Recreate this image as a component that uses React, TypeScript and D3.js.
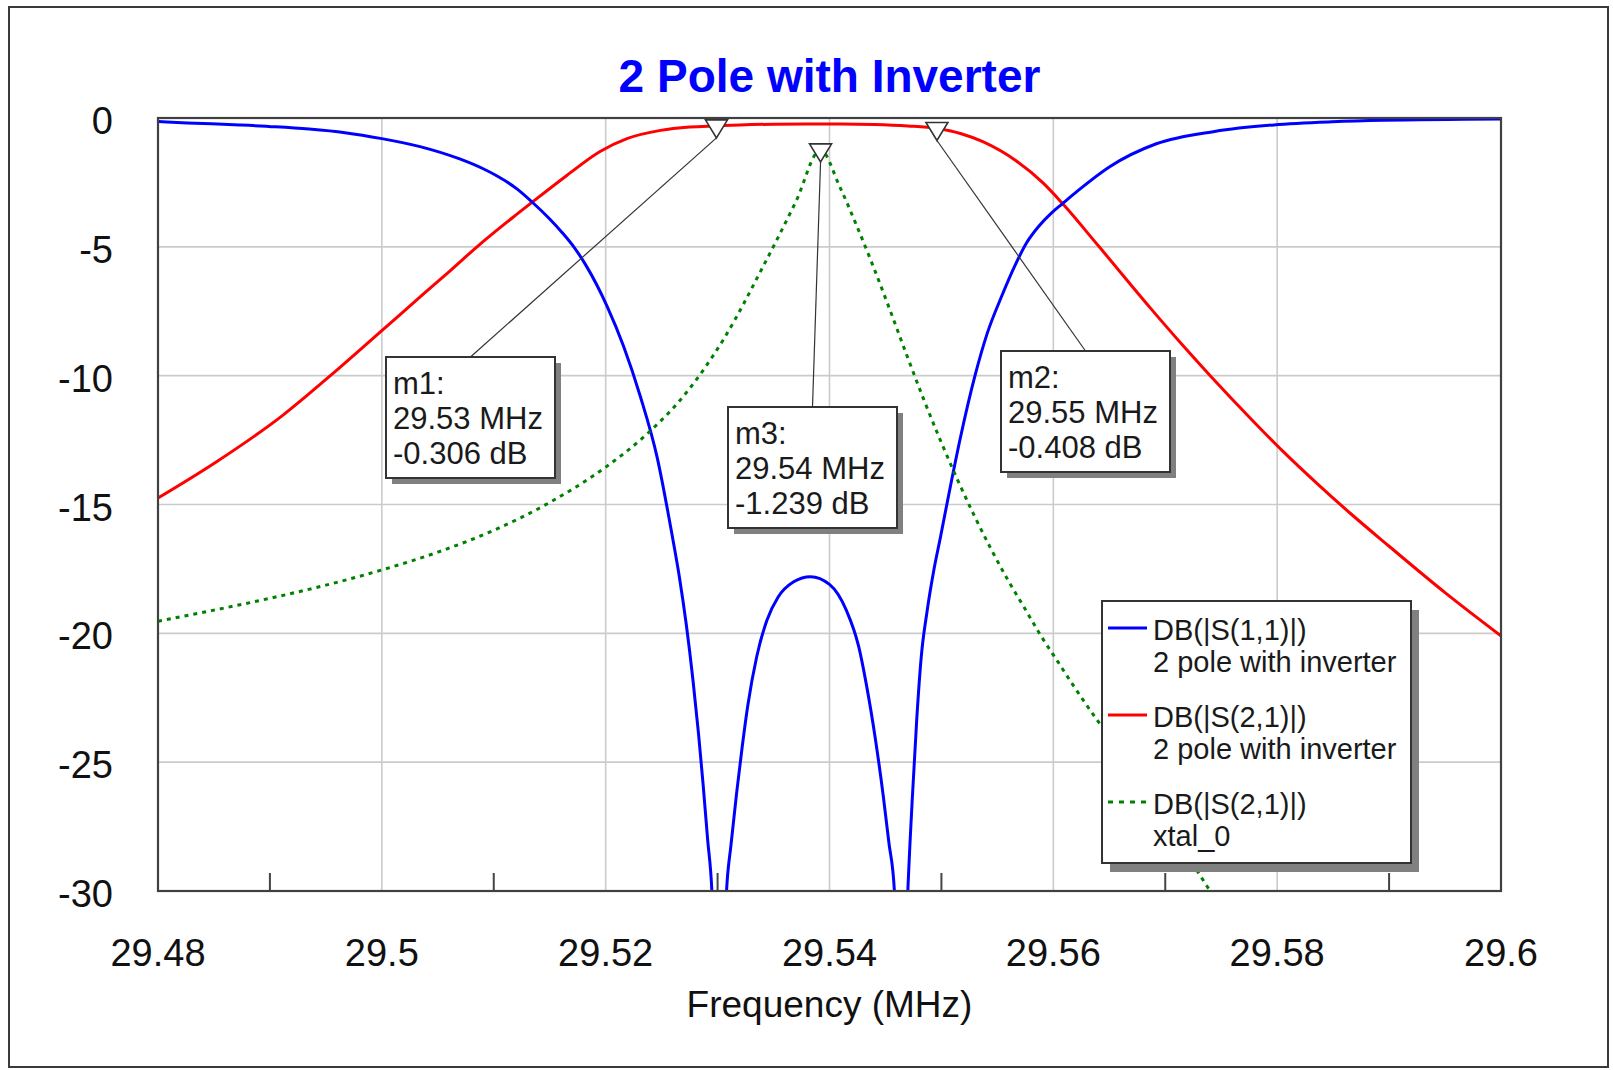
import * as d3 from 'd3'

// DB(|S(1,1)|), 2 pole with inverter (blue)
const s11Freq = [
  29.48, 29.4826, 29.4873, 29.4905, 29.4935, 29.4967, 29.5, 29.5035, 29.5069, 29.5091,
  29.5103, 29.5121, 29.5134, 29.515, 29.5161, 29.5172, 29.5182, 29.5192, 29.5201, 29.5216,
  29.5231, 29.5246, 29.5259, 29.5266, 29.5272, 29.5278, 29.5283, 29.5287, 29.5291, 29.5295,
  29.5301, 29.5308, 29.5312, 29.5317, 29.5322, 29.5327, 29.5335, 29.5344, 29.5354, 29.5368,
  29.5383, 29.54, 29.5415, 29.5426, 29.5433, 29.5441, 29.5448, 29.5453, 29.5458, 29.5463,
  29.547, 29.5474, 29.5478, 29.5482, 29.5487, 29.5493, 29.5499, 29.5508, 29.5517, 29.553,
  29.5541, 29.5554, 29.5566, 29.5576, 29.5587, 29.5598, 29.5608, 29.5622, 29.565, 29.5692,
  29.5744, 29.5797, 29.5849, 29.5895, 29.6,
]
const s11Db = [
  -0.14, -0.19, -0.27, -0.34, -0.43, -0.57, -0.8, -1.12, -1.58, -1.98,
  -2.25, -2.76, -3.25, -3.92, -4.44, -5.03, -5.69, -6.47, -7.28, -8.86,
  -10.81, -13.17, -16.1, -17.85, -19.65, -21.81, -23.91, -25.83, -27.95, -30.1,
  -40, -30, -28.2, -26.2, -24.4, -22.8, -20.9, -19.5, -18.6, -18.0,
  -17.8, -18.1, -19.1, -20.5, -22.0, -24.1, -26.3, -28.1, -30, -40,
  -30, -26.4, -23.3, -20.9, -19.2, -17.6, -16.3, -14.3, -12.4, -10.0,
  -8.35, -6.9, -5.7, -4.85, -4.2, -3.7, -3.33, -2.82, -1.9, -1.0,
  -0.52, -0.27, -0.15, -0.09, -0.04,
]

// DB(|S(2,1)|), 2 pole with inverter (red)
const s21Freq = [
  29.48, 29.4852, 29.4912, 29.4954, 29.5, 29.5037, 29.5061, 29.5085, 29.5117, 29.5134,
  29.5165, 29.5195, 29.5219, 29.5249, 29.5275, 29.5299, 29.532, 29.535, 29.538, 29.541,
  29.544, 29.547, 29.5496, 29.5517, 29.5537, 29.5567, 29.5591, 29.5608, 29.5641, 29.5686,
  29.5716, 29.5741, 29.5776, 29.5805, 29.5835, 29.5865, 29.59, 29.595, 29.6,
]
const s21Db = [
  -14.75, -13.35, -11.52, -10.0, -8.25, -6.84, -5.93, -5.0, -3.86, -3.28,
  -2.24, -1.3, -0.8, -0.48, -0.35, -0.306, -0.27, -0.24, -0.23, -0.23,
  -0.25, -0.31, -0.408, -0.6, -0.92, -1.67, -2.53, -3.31, -5.0, -7.34,
  -8.84, -10.04, -11.65, -12.93, -14.16, -15.33, -16.62, -18.42, -20.1,
]

// DB(|S(2,1)|), xtal_0 (green dotted)
const xtalFreq = [
  29.48, 29.485, 29.49, 29.495, 29.5, 29.505, 29.51, 29.515, 29.52, 29.5236,
  29.527, 29.5306, 29.534, 29.537, 29.5392, 29.5409, 29.5424, 29.5439, 29.5454, 29.5469,
  29.5484, 29.5499, 29.5514, 29.5529, 29.5544, 29.5559, 29.5574, 29.5589, 29.5604, 29.5619,
  29.5634, 29.5643, 29.574,
]
const xtalDb = [
  -19.53, -19.1, -18.64, -18.13, -17.54, -16.85, -16.0, -14.92, -13.55, -12.3,
  -10.77, -8.54, -5.82, -3.24, -1.239, -2.65, -4.15, -5.75, -7.45, -9.2,
  -10.9, -12.5, -14.0, -15.4, -16.7, -17.9, -19.0, -20.1, -21.1, -22.1,
  -23.05, -23.6, -30,
]

const xTicks = [29.48, 29.5, 29.52, 29.54, 29.56, 29.58, 29.6]
const xMinorTicks = [29.49, 29.51, 29.53, 29.55, 29.57, 29.59]
const yTicks = [0, -5, -10, -15, -20, -25, -30]

const markerNames = ['m1', 'm2', 'm3']
const markerFreqs = [29.5299, 29.5496, 29.5392]
const markerDbs = [-0.306, -0.408, -1.239]

const legendNames = ['DB(|S(1,1)|)', 'DB(|S(2,1)|)', 'DB(|S(2,1)|)']
const legendSources = ['2 pole with inverter', '2 pole with inverter', 'xtal_0']

const FONT = "'Liberation Sans', Arial, Helvetica, sans-serif"

const App = () => {
  const width = 1613
  const height = 1070
  const left = 158, right = 1501, top = 118, bottom = 891

  const x = d3.scaleLinear().domain([29.48, 29.6]).range([left, right])
  const y = d3.scaleLinear().domain([-30, 0]).range([bottom, top])

  const line = d3.line<[number, number]>()
    .x(d => x(d[0]))
    .y(d => y(d[1]))
    .curve(d3.curveMonotoneX)

  const series = [
    { freq: s21Freq, db: s21Db, color: '#ff0000', dash: undefined },
    { freq: s11Freq, db: s11Db, color: '#0000ff', dash: undefined },
    { freq: xtalFreq, db: xtalDb, color: '#008000', dash: '4 5' },
  ]
  const legendColors = ['#0000ff', '#ff0000', '#008000']
  const legendDash = [undefined, undefined, '5 6']

  // boxes for the marker read-outs (px)
  const boxPos = [[386, 357], [1001, 351], [728, 407]]
  const boxW = 169, boxH = 121

  const legend = { x: 1102, y: 601, w: 309, h: 262 }

  return (
    <svg width={width} height={height} style={{ position: 'absolute', left: 0, top: 0, background: '#fff' }}
      fontFamily={FONT}>
      <defs>
        <clipPath id="plotClip">
          <rect x={left} y={top} width={right - left} height={bottom - top} />
        </clipPath>
      </defs>
      <rect x={9} y={7} width={1599} height={1060} fill="#fff" stroke="#3a3a3a" strokeWidth={2} />

      <text x={(left + right) / 2} y={92} textAnchor="middle" fontSize={46} fontWeight="bold" fill="#0000ff">
        2 Pole with Inverter
      </text>

      {/* grid */}
      {xTicks.slice(1, -1).map(t => (
        <line key={'gx' + t} x1={x(t)} x2={x(t)} y1={top} y2={bottom} stroke="#cbcbcb" strokeWidth={1.6} />
      ))}
      {yTicks.slice(1, -1).map(t => (
        <line key={'gy' + t} x1={left} x2={right} y1={y(t)} y2={y(t)} stroke="#cbcbcb" strokeWidth={1.6} />
      ))}
      {xMinorTicks.map(t => (
        <line key={'mt' + t} x1={x(t)} x2={x(t)} y1={bottom} y2={bottom - 18} stroke="#444" strokeWidth={2} />
      ))}

      {/* curves */}
      <g clipPath="url(#plotClip)">
        {series.map((s, i) => (
          <path key={i} d={line(d3.zip(s.freq, s.db) as [number, number][]) || ''} fill="none"
            stroke={s.color} strokeWidth={3} strokeDasharray={s.dash} strokeLinejoin="round" />
        ))}
      </g>

      <rect x={left} y={top} width={right - left} height={bottom - top} fill="none" stroke="#404040" strokeWidth={2.2} />

      {/* axis labels */}
      {yTicks.map(t => (
        <text key={'yl' + t} x={113} y={y(t) + 16} textAnchor="end" fontSize={38} fill="#111">{t}</text>
      ))}
      {xTicks.map(t => (
        <text key={'xl' + t} x={x(t)} y={966} textAnchor="middle" fontSize={38} fill="#111">{t}</text>
      ))}
      <text x={(left + right) / 2} y={1017} textAnchor="middle" fontSize={37} fill="#111">Frequency (MHz)</text>

      {/* markers */}
      {markerNames.map((name, i) => {
        const px = x(markerFreqs[i])
        const py = y(markerDbs[i])
        const [bx, by] = boxPos[i]
        return (
          <g key={name}>
            <line x1={px} y1={py + 12} x2={bx + boxW / 2} y2={by} stroke="#333" strokeWidth={1.2} />
            <path d={`M${px - 11},${py - 6}L${px + 11},${py - 6}L${px},${py + 12}Z`} fill="#fff" stroke="#333" strokeWidth={1.6} />
            <rect x={bx + 6} y={by + 6} width={boxW} height={boxH} fill="#808080" />
            <rect x={bx} y={by} width={boxW} height={boxH} fill="#fff" stroke="#333" strokeWidth={2} />
            <g fontSize={31} fill="#1a1a1a">
              <text x={bx + 7} y={by + 37}>{name}:</text>
              <text x={bx + 7} y={by + 72}>{markerFreqs[i].toFixed(2)} MHz</text>
              <text x={bx + 7} y={by + 107}>{markerDbs[i].toFixed(3)} dB</text>
            </g>
          </g>
        )
      })}

      {/* legend */}
      <rect x={legend.x + 8} y={legend.y + 9} width={legend.w} height={legend.h} fill="#808080" />
      <rect x={legend.x} y={legend.y} width={legend.w} height={legend.h} fill="#fff" stroke="#333" strokeWidth={2} />
      {legendNames.map((name, i) => {
        const base = legend.y + 39 + i * 87
        return (
          <g key={'lg' + i}>
            <line x1={legend.x + 6} x2={legend.x + 45} y1={base - 12} y2={base - 12} stroke={legendColors[i]}
              strokeWidth={3} strokeDasharray={legendDash[i]} />
            <g fontSize={29} fill="#1a1a1a">
              <text x={legend.x + 51} y={base}>{name}</text>
              <text x={legend.x + 51} y={base + 32}>{legendSources[i]}</text>
            </g>
          </g>
        )
      })}
    </svg>
  )
}

export default App
